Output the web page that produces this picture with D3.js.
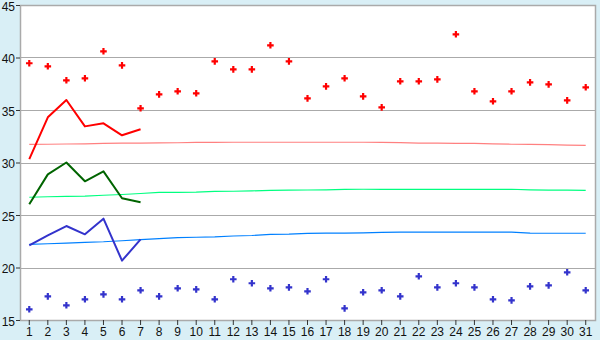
<!DOCTYPE html>
<html>
<head>
<meta charset="utf-8">
<script src="https://cdn.jsdelivr.net/npm/d3@7"></script>
<style>
  body { margin: 0; background: #d9eff6; }
  svg { display: block; font-family: "Liberation Sans", Arial, sans-serif; }
</style>
</head>
<body>
<svg width="600" height="340"></svg>
<script>
// days of the month
var days = d3.range(1, 32);
var yTicks = [15, 20, 25, 30, 35, 40, 45];

// daily highs / lows (scatter)
var highs = [39.45, 39.16, 37.83, 38.02, 40.59, 39.25, 35.16, 36.49, 36.78, 36.59,
             39.63, 38.87, 38.87, 41.16, 39.63, 36.11, 37.25, 38.02, 36.30, 35.25,
             37.73, 37.73, 37.92, 42.21, 36.78, 35.83, 36.78, 37.63, 37.44, 35.92, 37.16];
var lows = [16.02, 17.25, 16.40, 16.97, 17.44, 16.97, 17.83, 17.25, 18.02, 17.92,
            16.97, 18.88, 18.50, 18.02, 18.11, 17.73, 18.88, 16.11, 17.64, 17.83,
            17.25, 19.16, 18.11, 18.50, 18.11, 16.97, 16.87, 18.20, 18.30, 19.54, 17.83];

// current week (days 1-7)
var weekMax = [30.33, 34.30, 35.95, 33.44, 33.73, 32.59, 33.16];
var weekAvg = [26.02, 28.87, 30.00, 28.21, 29.16, 26.59, 26.21];
var weekMin = [22.11, 23.06, 23.95, 23.16, 24.65, 20.65, 22.68];

// normals (thin lines)
var normMax = [31.73, 31.74, 31.76, 31.78, 31.82, 31.84, 31.85, 31.86, 31.88, 31.92,
               31.92, 31.93, 31.93, 31.93, 31.93, 31.93, 31.93, 31.93, 31.93, 31.92,
               31.90, 31.85, 31.84, 31.83, 31.82, 31.78, 31.74, 31.73, 31.70, 31.66, 31.64];
var normAvg = [26.69, 26.74, 26.77, 26.80, 26.88, 26.95, 27.05, 27.15, 27.16, 27.18,
               27.25, 27.26, 27.30, 27.35, 27.36, 27.38, 27.40, 27.44, 27.45, 27.45,
               27.45, 27.45, 27.45, 27.45, 27.45, 27.45, 27.45, 27.40, 27.36, 27.36, 27.35];
var normMin = [22.20, 22.26, 22.33, 22.40, 22.45, 22.55, 22.65, 22.75, 22.85, 22.88,
               22.92, 23.00, 23.05, 23.15, 23.17, 23.25, 23.27, 23.28, 23.30, 23.34,
               23.36, 23.36, 23.36, 23.36, 23.36, 23.36, 23.36, 23.28, 23.26, 23.26, 23.26];

var svg = d3.select("svg");
var x0 = 20, x1 = 595, y0 = 5, y1 = 320;

var x = d3.scaleBand(days, [x0, x1]);
var y = d3.scaleLinear([15, 45], [y1, y0]);
var cx = function(d) { return x(d) + x.bandwidth() / 2; };

// plot background
svg.append("rect")
    .attr("x", x0).attr("y", y0)
    .attr("width", x1 - x0).attr("height", y1 - y0)
    .attr("fill", "white");

// grid
svg.append("g").selectAll("line")
    .data(yTicks)
    .enter().append("line")
    .attr("x1", x0).attr("x2", x1)
    .attr("y1", function(d) { return Math.round(y(d)) + 0.5; })
    .attr("y2", function(d) { return Math.round(y(d)) + 0.5; })
    .attr("stroke", "#aaaaaa")
    .attr("stroke-width", 1);

// border
svg.append("rect")
    .attr("x", x0 + 0.5).attr("y", y0 + 0.5)
    .attr("width", x1 - x0).attr("height", y1 - y0)
    .attr("fill", "none")
    .attr("stroke", "#aaaaaa")
    .attr("stroke-width", 1.5);

// axes
svg.append("g")
    .attr("transform", "translate(" + x0 + ",0)")
    .call(d3.axisLeft(y).tickValues(yTicks).tickSize(4).tickPadding(1))
    .call(function(g) { g.select(".domain").remove(); })
    .attr("font-family", "Liberation Sans, Arial, sans-serif")
    .attr("font-size", 12)
    .call(function(g) { g.selectAll(".tick line").attr("stroke", "#333"); })
    .call(function(g) { g.selectAll(".tick text").attr("fill", "#111").attr("dy", "0.42em"); });

svg.append("g")
    .attr("transform", "translate(0," + y1 + ")")
    .call(d3.axisBottom(x).tickSize(5).tickPadding(2))
    .call(function(g) { g.select(".domain").remove(); })
    .attr("font-family", "Liberation Sans, Arial, sans-serif")
    .attr("font-size", 12)
    .call(function(g) { g.selectAll(".tick line").attr("stroke", "#333"); })
    .call(function(g) { g.selectAll(".tick text").attr("fill", "#111"); });

// thin normal lines
var line = d3.line()
    .x(function(d, i) { return cx(days[i]); })
    .y(function(d) { return y(d); });

[[normMax, "#ff8080"], [normAvg, "#00ff80"], [normMin, "#0080ff"]].forEach(function(s) {
    svg.append("path")
        .datum(s[0])
        .attr("d", line)
        .attr("fill", "none")
        .attr("stroke", s[1])
        .attr("stroke-width", 1.2);
});

// week lines
[[weekMax, "#ff0000"], [weekAvg, "#006400"], [weekMin, "#3333cc"]].forEach(function(s) {
    svg.append("path")
        .datum(s[0])
        .attr("d", line)
        .attr("fill", "none")
        .attr("stroke", s[1])
        .attr("stroke-width", 2)
        .attr("stroke-linejoin", "round");
});

// scatter markers
var cross = d3.symbol().type(d3.symbolCross).size(24);
[[highs, "#ff0000"], [lows, "#3333cc"]].forEach(function(s) {
    svg.append("g").selectAll("path")
        .data(s[0])
        .enter().append("path")
        .attr("d", cross)
        .attr("transform", function(d, i) { return "translate(" + cx(days[i]) + "," + y(d) + ")"; })
        .attr("fill", s[1]);
});
</script>
</body>
</html>
